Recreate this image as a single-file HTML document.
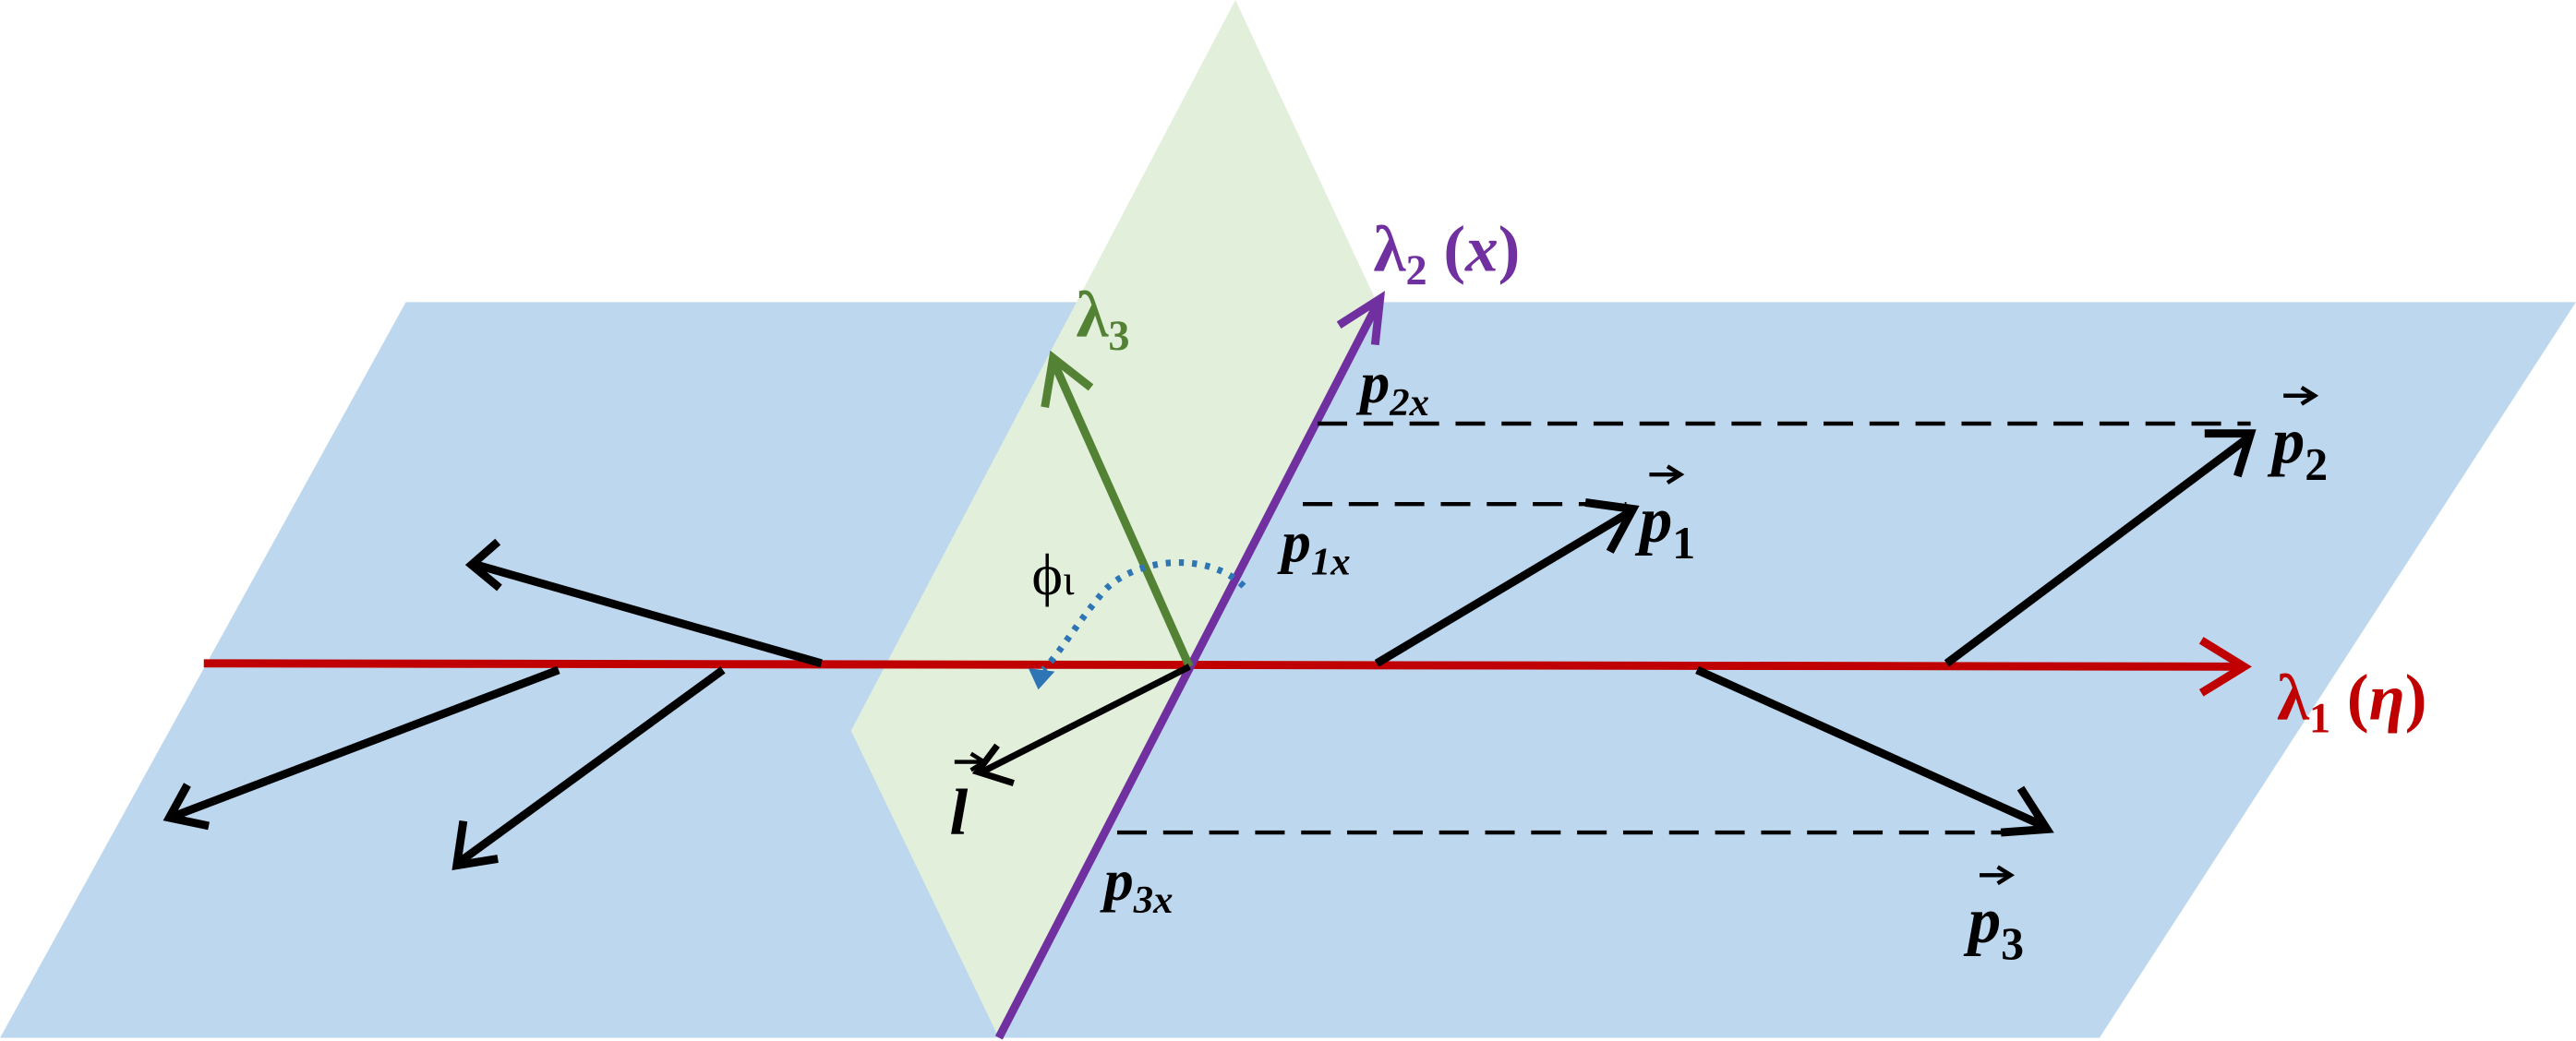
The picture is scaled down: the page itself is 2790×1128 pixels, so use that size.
<!DOCTYPE html>
<html><head><meta charset="utf-8"><style>html,body{margin:0;padding:0;background:#fff}svg{display:block}</style></head>
<body>
<svg width="2790" height="1128" viewBox="0 0 1568 634" xmlns="http://www.w3.org/2000/svg">
<polygon points="247,184 1568,184 1278,632 0,632" fill="#bdd7ee"/>
<polygon points="752,0 838,184 608,632 518,445" fill="#e2efda"/>
<g stroke-width="5" fill="none" stroke-linecap="butt">
<line x1="124" y1="404" x2="1362" y2="406" stroke="#c00000"/>
<polyline points="1340,390 1366,406 1340,422" stroke="#c00000"/>
<line x1="608" y1="632" x2="838" y2="186" stroke="#7030a0"/>
<polyline points="815,198 840,182 837,210" stroke="#7030a0"/>
<line x1="724" y1="406" x2="642" y2="222" stroke="#548235"/>
<polyline points="636,248 641,218 664,236" stroke="#548235"/>
</g>
<g stroke="#000" stroke-width="5" fill="none">
<line x1="500" y1="404" x2="290" y2="344"/><polyline points="303,330 287,344 304,358"/>
<line x1="340" y1="408" x2="106" y2="497"/><polyline points="114,478 103,498 127,503"/>
<line x1="440" y1="408" x2="281" y2="524"/><polyline points="282,500 278,527 303,523"/>
<line x1="724" y1="406" x2="598" y2="470" stroke-width="4"/><polyline points="607,454 595,470 617,477" stroke-width="4"/>
<line x1="838" y1="404" x2="992" y2="312"/><polyline points="965,306 994,310 980,336"/>
<line x1="1185" y1="404" x2="1368" y2="267"/><polyline points="1342,264 1370,264 1362,290"/>
<line x1="1033" y1="408" x2="1244" y2="503"/><polyline points="1230,480 1246,505 1218,507"/>
</g>
<g stroke="#000" stroke-width="2.5" stroke-dasharray="18,10" fill="none">
<line x1="802" y1="258" x2="1370" y2="258"/>
<line x1="793" y1="307" x2="990" y2="307"/>
<line x1="680" y1="507" x2="1240" y2="507"/>
</g>
<path d="M757,357 C735,335 690,340 672,360 C655,380 645,398 635,408" stroke="#2e75b6" stroke-width="4" stroke-dasharray="3,5" fill="none"/>
<polygon points="626,407 642,409 632,420" fill="#2e75b6"/>
<!-- vector arrows over letters -->
<g stroke="#000" stroke-width="2.5" fill="none">
<line x1="1004" y1="289" x2="1022" y2="289"/><polyline points="1015,284 1023,289 1015,294"/>
<line x1="1390" y1="241" x2="1408" y2="241"/><polyline points="1401,236 1409,241 1401,246"/>
<line x1="1205" y1="533" x2="1223" y2="533"/><polyline points="1216,528 1224,533 1216,538"/>
<line x1="581" y1="464" x2="598" y2="464"/><polyline points="591,459 599,464 591,469"/>
</g>
<g font-family="Liberation Serif, serif" font-style="italic" font-weight="bold">
<text x="836" y="165" font-size="40" fill="#7030a0" font-style="normal">λ<tspan font-size="26" dy="8">2</tspan><tspan dy="-8"> (</tspan><tspan font-style="italic">x</tspan>)</text>
<text x="655" y="205" font-size="40" fill="#548235" font-style="normal">λ<tspan font-size="26" dy="8">3</tspan></text>
<text x="1386" y="438" font-size="40" fill="#c00000" font-style="normal">λ<tspan font-size="26" dy="8">1</tspan><tspan dy="-8"> (</tspan><tspan font-style="italic">η</tspan>)</text>
<text x="828" y="245" font-size="36" fill="#000">p<tspan font-size="24" dy="8">2x</tspan></text>
<text x="780" y="342" font-size="36" fill="#000">p<tspan font-size="24" dy="8">1x</tspan></text>
<text x="672" y="548" font-size="36" fill="#000">p<tspan font-size="24" dy="8">3x</tspan></text>
<text x="998" y="330" font-size="40" fill="#000">p<tspan font-size="28" font-style="normal" dy="10">1</tspan></text>
<text x="1383" y="282" font-size="40" fill="#000">p<tspan font-size="28" font-style="normal" dy="10">2</tspan></text>
<text x="1198" y="574" font-size="40" fill="#000">p<tspan font-size="28" font-style="normal" dy="10">3</tspan></text>
<text x="578" y="508" font-size="40" fill="#000">l</text>
<text x="628" y="362" font-size="36" fill="#000" font-style="normal" font-weight="normal">ϕ<tspan font-size="26">ι</tspan></text>
</g>
</svg>
</body></html>
